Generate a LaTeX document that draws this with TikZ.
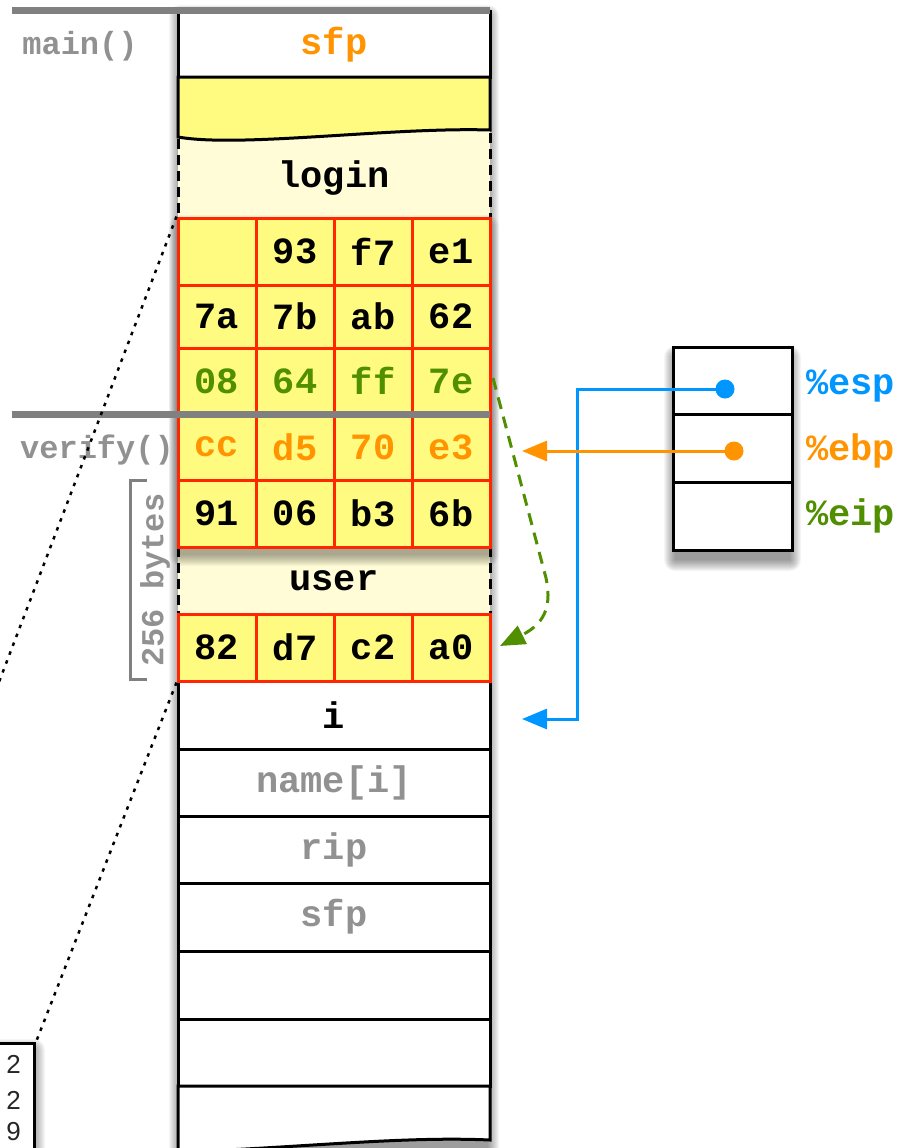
\documentclass[tikz,border=0pt]{standalone}
\usepackage{fontspec}
\setmonofont{Liberation Mono}
\setsansfont{Liberation Sans}
\usetikzlibrary{arrows.meta}
\definecolor{cyel}{RGB}{255,251,128}
\definecolor{clight}{RGB}{255,252,215}
\definecolor{cred}{RGB}{255,38,0}
\definecolor{corange}{RGB}{255,147,0}
\definecolor{cblue}{RGB}{0,150,255}
\definecolor{cgreen}{RGB}{79,143,0}
\definecolor{cgreyline}{RGB}{128,128,128}
\definecolor{cgreytext}{RGB}{145,145,145}
% #1 dy, #2 opacity, #3 x1, #4 y1, #5 x2, #6 y2
\newcommand\softshadow[6]{%
  \foreach \k in {0,...,11}{%
    \fill[black,opacity=#2,rounded corners=\k pt] ({#3-\k+2},{#4-\k+#1}) rectangle ({#5+\k-2},{#6+\k+#1});
  }}
\tikzset{
  content/.style={font=\ttfamily\bfseries\fontsize{37}{40}\selectfont},
  side/.style={font=\ttfamily\bfseries\fontsize{32}{36}\selectfont, text=cgreytext},
  cell/.style={draw=cred, fill=cyel, line width=3pt, minimum width=78pt, inner sep=0pt, content},
  wrow/.style={draw=black, fill=white, line width=3pt, minimum width=312pt, inner sep=0pt, content},
  regbox/.style={draw=black, fill=white, line width=3pt, minimum width=119pt, inner sep=0pt},
  sidedash/.style={draw=black, line width=3pt, dash pattern=on 10pt off 6pt},
  dotline/.style={draw=black, line width=2.5pt, dash pattern=on 3.5pt off 6pt},
  conn/.style={line width=3pt, -{Triangle[length=25pt,width=20pt]}},
  reglabel/.style={content, anchor=west, inner sep=0pt},
  memtext/.style={font=\sffamily\fontsize{26}{28}\selectfont, text=black!85, anchor=east, inner sep=0pt},
}
\begin{document}
\begin{tikzpicture}[x=1pt,y=-1pt]
\useasboundingbox (0,0) rectangle (909,1148);
\clip (0,0) rectangle (909,1148);

% shadows of main column, register box, memory box
\softshadow{4}{0.04}{178}{12}{490}{1148}
\softshadow{10}{0.04}{673}{347}{792}{550}
\softshadow{8}{0.035}{-60}{1042}{36}{1250}

% light areas
\fill[clight] (178,120) rectangle (490,218);
\fill[clight] (178,547) rectangle (490,614);

% white rows
\node[wrow, minimum height=65pt, text=corange] (sfptop) at (334,44.5) {sfp};
\node[wrow, minimum height=68pt] (rowi) at (334,715) {i};
\node[wrow, minimum height=67pt, text=cgreytext] (rowname) at (334,782.5) {name[i]};
\node[wrow, minimum height=67pt, text=cgreytext] (rowrip) at (334,849.5) {rip};
\node[wrow, minimum height=68pt, text=cgreytext] (rowsfp) at (334,917) {sfp};
\node[wrow, minimum height=68pt] (rowe1) at (334,985) {};
\node[wrow, minimum height=67pt] (rowe2) at (334,1052.5) {};
\draw[fill=white, line width=3pt] (178,1086) -- (490,1086) -- (490,1140) .. controls (400,1136) and (300,1148) .. (178,1152) -- cycle;

% shadow of upper byte grid onto user area
\softshadow{8}{0.03}{178}{218}{490}{547}

% wavy yellow block
\draw[fill=cyel, line width=3pt] (178,77) -- (490,77) -- (490,130) .. controls (390,127) and (240,148) .. (178,137) -- cycle;

% dashed sides
\draw[sidedash] (178,139) -- (178,218);
\draw[sidedash] (490,133) -- (490,218);
\draw[sidedash] (178,547) -- (178,614);
\draw[sidedash] (490,547) -- (490,614);
\node[content] (login) at (334,178) {login};
\node[content] (user) at (334,581) {user};

% byte grid 1
\foreach \ya/\yb/\va/\vb/\vc/\vd/\col [count=\r] in {218/285/{}/93/f7/e1/black, 285/348/7a/7b/ab/62/black, 348/414/08/64/ff/7e/cgreen, 414/480/cc/d5/70/e3/corange, 480/547/91/06/b3/6b/black}{
  \pgfmathsetmacro\hh{\yb-\ya}
  \pgfmathsetmacro\ym{(\ya+\yb)/2}
  \foreach \v [count=\cc] in {\va,\vb,\vc,\vd}{
    \node[cell, minimum height=\hh pt, text=\col] (g\r-\cc) at ({178+78*(\cc-1)+39},\ym) {\v};
  }
}
% byte grid 2
\foreach \v [count=\cc] in {82,d7,c2,a0}{
  \node[cell, minimum height=67pt] (h-\cc) at ({178+78*(\cc-1)+39},647.5) {\v};
}

% frame separators
\draw[cgreyline, line width=7pt] (12,11) -- (490,11);
\draw[cgreyline, line width=7pt] (12,414) -- (490,414);
\node[side] (lmain) at (80,46) {main()};
\node[side] (lverify) at (97,450) {verify()};

% 256 bytes bracket
\draw[cgreyline, line width=3pt] (147,480) -- (130,480) -- (130,679) -- (147,679);
\node[side, rotate=90] (lbytes) at (155,580) {256 bytes};

% memory box at bottom left
\node[draw=black, fill=white, line width=3pt, minimum width=150pt, minimum height=220pt, anchor=north east, inner sep=0pt] (memb) at (36,1042) {};
\node[memtext] (m1) at (21,1064) {2};
\node[memtext] (m2) at (21,1100) {2};
\node[memtext] (m3) at (21,1132) {9};

% dotted zoom lines
\coordinate (far1) at (-46,800);
\draw[dotline] (g1-1.north west) -- (far1);
\draw[dotline] (h-1.south west) -- (memb.north east);

% register box
\node[regbox, minimum height=67pt] (r1) at (732.5,380.5) {};
\node[regbox, minimum height=68pt] (r2) at (732.5,448) {};
\node[regbox, minimum height=68pt] (r3) at (732.5,516) {};
\node[reglabel, text=cblue] (lesp) at (806,386) {\%esp};
\node[reglabel, text=corange] (lebp) at (806,451) {\%ebp};
\node[reglabel, text=cgreen] (leip) at (806,516) {\%eip};

% pointers
\node[circle, fill=cblue, minimum size=19pt, inner sep=0pt] (espdot) at (725,389) {};
\node[circle, fill=corange, minimum size=19pt, inner sep=0pt] (ebpdot) at (734,451) {};
\coordinate (bend) at (577,719);
\coordinate (iarr) at (522,719);
\coordinate (ebparr) at (522,451);
\draw[cblue, conn] (espdot.center) -| (bend) -- (iarr);
\draw[corange, conn] (ebpdot.center) -- (ebparr);

% return address (eip) pointer
\coordinate (gs) at (493,378);
\coordinate (gm) at (546,578);
\coordinate (ge) at (500,646);
\draw[cgreen, conn, dash pattern=on 12pt off 8pt] (gs) -- (gm) .. controls (551,602) and (548,622) .. (ge);
\end{tikzpicture}
\end{document}
